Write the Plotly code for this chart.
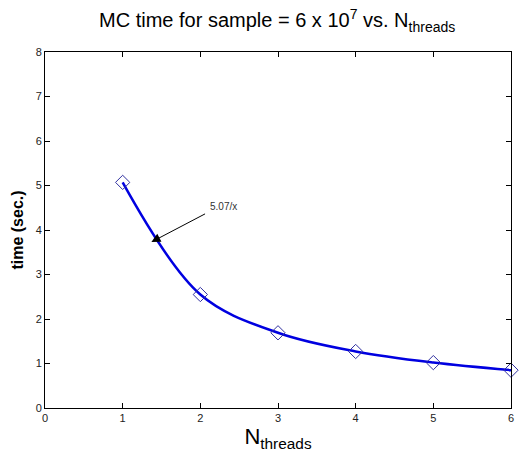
import plotly.graph_objects as go

n_threads = [1, 2, 3, 4, 5, 6]
times = [5.07, 2.55, 1.69, 1.27, 1.02, 0.85]
x_ticks = [0, 1, 2, 3, 4, 5, 6]
y_ticks = [0, 1, 2, 3, 4, 5, 6, 7, 8]
fit_label = "5.07/x"

fig = go.Figure()
fig.add_trace(go.Scatter(
    x=n_threads, y=times, mode="lines",
    line=dict(color="#0000e0", width=2.5, shape="spline", smoothing=1.0),
    showlegend=False, hoverinfo="skip", cliponaxis=False))
fig.add_trace(go.Scatter(
    x=n_threads, y=times, mode="markers",
    marker=dict(symbol="diamond-open", size=11, color="#3030a0", line=dict(width=1)),
    showlegend=False, cliponaxis=False))

fig.add_annotation(
    x=1.37, y=3.73, ax=2.08, ay=4.38, xref="x", yref="y", axref="x", ayref="y",
    text="", showarrow=True, arrowhead=2, arrowsize=1.8, arrowwidth=1, arrowcolor="black")
fig.add_annotation(
    x=2.30, y=4.52, xref="x", yref="y", text=fit_label, showarrow=False,
    font=dict(family="Liberation Sans, Arial", size=10, color="#333"))

axis_common = dict(
    showgrid=False, zeroline=False, showline=True, linecolor="black", linewidth=1,
    mirror="ticks", ticks="inside", ticklen=5, tickcolor="black",
    tickfont=dict(family="Liberation Sans, Arial", size=11, color="#222"))

fig.update_layout(
    width=519, height=454,
    margin=dict(l=45, r=5, t=52, b=46),
    paper_bgcolor="white", plot_bgcolor="white",
    title=dict(text="MC time for sample = 6 x 10<sup>7</sup> vs. N<sub>threads</sub>",
               x=0.534, xanchor="center", y=0.955, yanchor="middle",
               font=dict(family="Liberation Sans, Arial", size=20, color="black")),
    xaxis=dict(range=[0, 6], tickvals=x_ticks, title=dict(text="N<sub>threads</sub>", standoff=4,
               font=dict(family="Liberation Sans, Arial", size=22, color="black")), **axis_common),
    yaxis=dict(range=[0, 8], tickvals=y_ticks, title=dict(text="<b>time (sec.)</b>", standoff=8,
               font=dict(family="Liberation Sans, Arial", size=16, color="black")), **axis_common),
)

fig.write_html("out.html", config={"displayModeBar": False},
               post_script="document.body.style.margin='0px';")
